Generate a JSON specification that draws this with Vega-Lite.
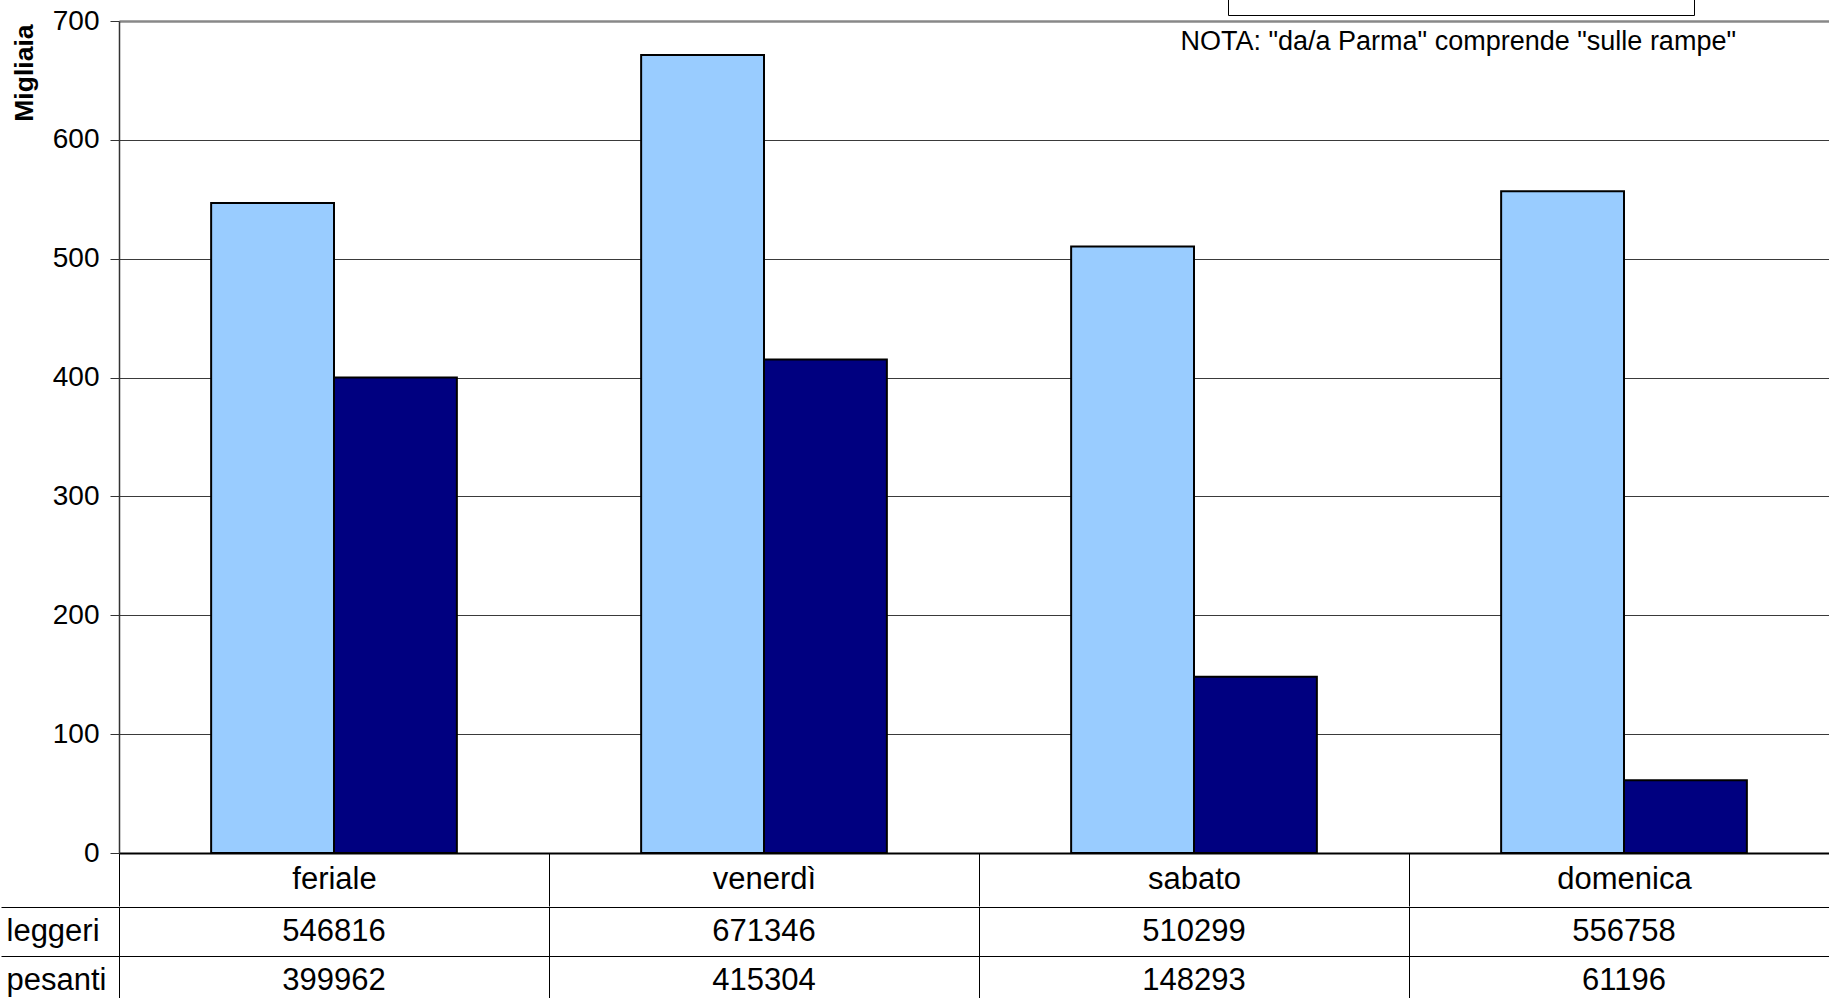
{
  "$schema": "https://vega.github.io/schema/vega-lite/v6.json",
  "padding": {"left": 0, "top": -73, "right": -9, "bottom": -5},
  "spacing": -20,
  "resolve": {"legend": {"color": "independent"}},
  "config": {
    "font": "Liberation Sans",
    "view": {"stroke": null},
    "axis": {"labelColor": "black", "labelFont": "Liberation Sans", "titleColor": "black"}
  },
  "data": {
    "values": [
      {"giorno": "feriale", "tipo": "leggeri", "veicoli": 546816},
      {"giorno": "feriale", "tipo": "pesanti", "veicoli": 399962},
      {"giorno": "venerdì", "tipo": "leggeri", "veicoli": 671346},
      {"giorno": "venerdì", "tipo": "pesanti", "veicoli": 415304},
      {"giorno": "sabato", "tipo": "leggeri", "veicoli": 510299},
      {"giorno": "sabato", "tipo": "pesanti", "veicoli": 148293},
      {"giorno": "domenica", "tipo": "leggeri", "veicoli": 556758},
      {"giorno": "domenica", "tipo": "pesanti", "veicoli": 61196}
    ]
  },
  "vconcat": [
    {
      "width": 1720,
      "height": 832,
      "title": {
        "text": "NOTA: \"da/a Parma\" comprende \"sulle rampe\"",
        "orient": "top",
        "anchor": "end",
        "frame": "group",
        "baseline": "middle",
        "offset": -141,
        "dx": -103,
        "fontSize": 27,
        "fontWeight": "normal",
        "color": "black"
      },
      "mark": {"type": "bar", "stroke": "black", "strokeWidth": 2},
      "encoding": {
        "x": {
          "field": "giorno",
          "type": "nominal",
          "sort": ["feriale", "venerdì", "sabato", "domenica"],
          "scale": {"paddingInner": 0, "paddingOuter": 0},
          "axis": {
            "title": null,
            "labelAngle": 0,
            "labelFontSize": 31,
            "labelBaseline": "middle",
            "labelPadding": -26.5,
            "tickBand": "extent",
            "tickSize": 53,
            "tickColor": "black",
            "tickWidth": 1,
            "domainColor": "black",
            "domainWidth": 2,
            "minExtent": 53,
            "maxExtent": 53
          }
        },
        "xOffset": {
          "field": "tipo",
          "type": "nominal",
          "sort": ["leggeri", "pesanti"],
          "scale": {"paddingInner": 0, "paddingOuter": 0.75}
        },
        "y": {
          "field": "veicoli",
          "type": "quantitative",
          "scale": {"domain": [0, 700000]},
          "axis": {
            "title": "Migliaia",
            "titleFontSize": 26.5,
            "titleFontWeight": "bold",
            "titleAngle": -90,
            "titleAlign": "right",
            "titleBaseline": "middle",
            "titleX": -95,
            "titleY": 3,
            "values": [0, 100000, 200000, 300000, 400000, 500000, 600000, 700000],
            "labelExpr": "datum.value / 1000",
            "labelFontSize": 28,
            "labelPadding": 11,
            "tickSize": 9,
            "tickColor": "#333333",
            "domainColor": "#333333",
            "domainWidth": 1.5,
            "gridColor": {"condition": {"test": "datum.value === 700000", "value": "#888888"}, "value": "#3a3a3a"},
            "gridWidth": {"condition": {"test": "datum.value === 700000", "value": 2.5}, "value": 1}
          }
        },
        "color": {
          "field": "tipo",
          "type": "nominal",
          "scale": {"domain": ["leggeri", "pesanti"], "range": ["#99CCFF", "#000080"]},
          "legend": {
            "title": null,
            "orient": "none",
            "legendX": 1109,
            "legendY": -93,
            "direction": "horizontal",
            "columns": 2,
            "columnPadding": 166,
            "padding": 30,
            "strokeColor": "black",
            "fillColor": "white",
            "symbolType": "square",
            "symbolSize": 400,
            "symbolStrokeColor": "black",
            "symbolStrokeWidth": 1,
            "labelFontSize": 27,
            "labelColor": "black",
            "labelOffset": 8
          }
        }
      }
    },
    {
      "width": 1720,
      "height": 98,
      "mark": {"type": "text", "fontSize": 31, "color": "black"},
      "encoding": {
        "x": {
          "field": "giorno",
          "type": "nominal",
          "sort": ["feriale", "venerdì", "sabato", "domenica"],
          "scale": {"paddingInner": 0, "paddingOuter": 0},
          "axis": {
            "title": null,
            "labels": false,
            "ticks": false,
            "domain": false,
            "grid": true,
            "tickBand": "extent",
            "gridColor": "black",
            "gridWidth": 1,
            "minExtent": 0,
            "maxExtent": 0
          }
        },
        "y": {
          "field": "tipo",
          "type": "nominal",
          "sort": ["leggeri", "pesanti"],
          "scale": {"paddingInner": 0, "paddingOuter": 0},
          "axis": {
            "title": null,
            "domain": false,
            "labelFontSize": 31,
            "labelAlign": "left",
            "labelBaseline": "middle",
            "labelPadding": -5,
            "tickBand": "extent",
            "tickSize": 118,
            "tickColor": "black",
            "tickWidth": 1,
            "grid": true,
            "gridColor": "black",
            "gridWidth": 1
          }
        },
        "text": {"field": "veicoli", "type": "quantitative", "format": "d"}
      }
    }
  ]
}
